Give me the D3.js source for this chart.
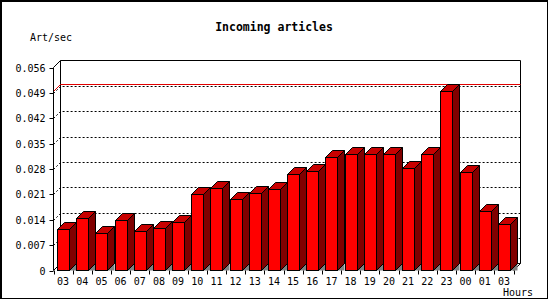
<!DOCTYPE html>
<html><head><meta charset="utf-8">
<script src="https://cdn.jsdelivr.net/npm/d3@7"></script>
<style>
html,body{margin:0;padding:0;background:#fff;}
svg{display:block;}
text{font-family:"DejaVu Sans Mono","Liberation Mono",monospace;fill:#000;}
</style></head><body>
<svg id="c" width="550" height="300"></svg>
<script>
const hours = ["03","04","05","06","07","08","09","10","11","12","13","14","15","16","17","18","19","20","21","22","23","00","01","03"];
const values = [0.0115,0.0145,0.0104,0.0140,0.0110,0.0118,0.0135,0.0212,0.0228,0.0198,0.0214,0.0225,0.0267,0.0275,0.0314,0.0322,0.0322,0.0322,0.0283,0.0322,0.0495,0.0272,0.0165,0.0129];
const yTicks = [0,0.007,0.014,0.021,0.028,0.035,0.042,0.049,0.056];
const yTickLabels = ["0","0.007","0.014","0.021","0.028","0.035","0.042","0.049","0.056"];
const title = "Incoming articles";
const yTitle = "Art/sec";
const xTitle = "Hours";

const svg = d3.select("#c");
const D = 7;               // 3D depth
const x0 = 53.5, x1 = 513.5, yB = 270.5, yT = 67.5;
const x = d3.scaleBand().domain(d3.range(hours.length)).range([x0, x1]).paddingInner(0.37).paddingOuter(0.185);
const y = d3.scaleLinear().domain([0, 0.056]).range([yB, yT]);

// outer frame
svg.append("rect").attr("x",0.5).attr("y",0.5).attr("width",547).attr("height",298)
  .attr("fill","none").attr("stroke","#000").attr("stroke-width",1);
svg.append("line").attr("x1",1.5).attr("y1",0).attr("x2",1.5).attr("y2",299).attr("stroke","#000");
svg.append("line").attr("x1",0).attr("y1",1.5).attr("x2",548).attr("y2",1.5).attr("stroke","#000");

const g = svg.append("g");
// back wall
g.append("path").attr("d",`M${x0+D},${yB-D} L${x0+D},${yT-D} L${x1+D},${yT-D} L${x1+D},${yB-D}`)
  .attr("fill","none").attr("stroke","#000");
g.append("line").attr("x1",x0).attr("y1",yT).attr("x2",x0+D).attr("y2",yT-D).attr("stroke","#000");
// floor
g.append("path").attr("d",`M${x0},${yB} L${x0+D},${yB-D} L${x1+D},${yB-D} L${x1},${yB}`)
  .attr("fill","none").attr("stroke","#000");

// dotted gridlines
yTicks.slice(1, -1).forEach(t => {
  const yy = Math.round(y(t)) + 0.5;
  g.append("path").attr("d",`M${x0},${yy} L${x0+D},${yy-D} L${x1+D},${yy-D}`)
    .attr("fill","none").attr("stroke","#000").attr("stroke-dasharray","2,2");
});

// max line (red)
const vmax = d3.max(values);
const ym = Math.round(y(vmax)) + 0.5;
g.append("path").attr("d",`M${x0},${ym} L${x0+D},${ym-D} L${x1+D},${ym-D}`)
  .attr("fill","none").attr("stroke","#e00000");

// bars
const bw = 12;
values.forEach((v, i) => {
  const cx = x(i) + x.bandwidth()/2;
  const L = Math.round(cx - bw/2) + 0.5, R = L + bw;
  const top = Math.round(y(v)) + 0.5;
  // shadow
  g.append("path").attr("d",`M${R},${yB} L${R+D},${yB-D} L${R+D},${yB} Z`).attr("fill","#808080").attr("stroke","none");
  // side
  g.append("path").attr("d",`M${R},${top} L${R+D},${top-D} L${R+D},${yB-D} L${R},${yB} Z`)
    .attr("fill","#800000").attr("stroke","#000");
  // top
  g.append("path").attr("d",`M${L},${top} L${L+D},${top-D} L${R+D},${top-D} L${R},${top} Z`)
    .attr("fill","#c80000").attr("stroke","#000");
  // front
  g.append("rect").attr("x",L).attr("y",top).attr("width",bw).attr("height",yB-top)
    .attr("fill","#ff0000").attr("stroke","#000");
});

// front y axis
g.append("line").attr("x1",x0).attr("y1",yT).attr("x2",x0).attr("y2",yB).attr("stroke","#000");
yTicks.forEach((t, i) => {
  const yy = Math.round(y(t)) + 0.5;
  g.append("line").attr("x1",x0-4).attr("y1",yy).attr("x2",x0).attr("y2",yy).attr("stroke","#000");
  g.append("text").attr("x",x0-8).attr("y",yy+3.5).attr("text-anchor","end")
    .attr("font-size",10).text(yTickLabels[i]);
});
// x axis ticks + labels
const step = x.step();
for (let i = 0; i <= hours.length; i++) {
  const xx = Math.round(x0 + i*step) + 0.5;
  g.append("line").attr("x1",xx).attr("y1",yB).attr("x2",xx).attr("y2",yB+4).attr("stroke","#000");
}
hours.forEach((h, i) => {
  g.append("text").attr("x",x(i)+x.bandwidth()/2).attr("y",284.5).attr("text-anchor","middle")
    .attr("font-size",10).text(h);
});

svg.append("text").attr("x",274).attr("y",31).attr("text-anchor","middle")
  .attr("font-size",11.5).attr("font-weight","bold").text(title);
svg.append("text").attr("x",30).attr("y",40.5).attr("font-size",10).text(yTitle);
svg.append("text").attr("x",533).attr("y",296).attr("text-anchor","end").attr("font-size",10).text(xTitle);
</script>
</body></html>
